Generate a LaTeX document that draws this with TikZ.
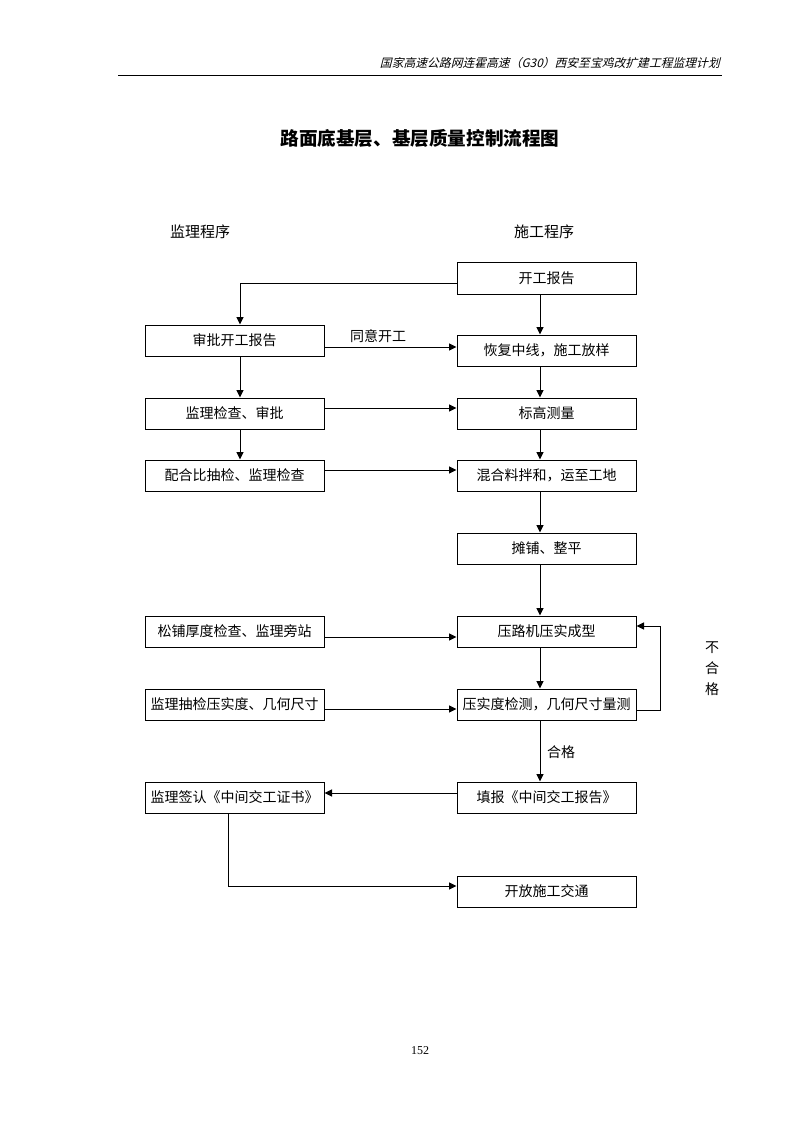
\documentclass[tikz,border=0pt]{standalone}
\usepackage{fontspec}
\setmainfont{Noto Sans CJK SC}
\newfontfamily\cjk{Noto Sans CJK SC}
\newfontfamily\hdrfont[FakeSlant=0.25]{Noto Sans CJK SC}
\newfontfamily\numfont{Liberation Serif}
\usetikzlibrary{arrows.meta}
\begin{document}
\begin{tikzpicture}[x=1pt,y=-1pt,
  box/.style={draw, line width=1pt, minimum width=179pt, minimum height=31pt, inner sep=0pt, font=\cjk\fontsize{14}{16}\selectfont},
  arr/.style={line width=1pt, -{Triangle[length=7.5pt,width=7pt]}},
  ln/.style={line width=1pt},
  lbl/.style={inner sep=0pt, font=\cjk\fontsize{14}{16}\selectfont}]
\useasboundingbox (0,0) rectangle (794,1123);
\fill[white] (0,0) rectangle (794,1123);

% header
\node[inner sep=0pt, anchor=east, font=\hdrfont\fontsize{11.8}{13}\selectfont] (hdr) at (720,63) {国家高速公路网连霍高速（G30）西安至宝鸡改扩建工程监理计划};
\draw[line width=1pt] (118,76) -- (722,76);

% title
\node[inner sep=0pt, font=\cjk\bfseries\fontsize{18.6}{20}\selectfont] (title) at (420,138) {路面底基层、基层质量控制流程图};

% column labels
\node[inner sep=0pt, font=\cjk\fontsize{15}{17}\selectfont] (lhead) at (200,232) {监理程序};
\node[inner sep=0pt, font=\cjk\fontsize{15}{17}\selectfont] (rhead) at (544,232) {施工程序};

% right column
\node[box, minimum height=32pt] (r1) at (546.5,278) {开工报告};
\node[box] (r2) at (546.5,350.5) {恢复中线，施工放样};
\node[box] (r3) at (546.5,413.5) {标高测量};
\node[box] (r4) at (546.5,475.5) {混合料拌和，运至工地};
\node[box] (r5) at (546.5,548.5) {摊铺、整平};
\node[box] (r6) at (546.5,631.5) {压路机压实成型};
\node[box] (r7) at (546.5,704.5) {压实度检测，几何尺寸量测};
\node[box] (r8) at (546.5,797.5) {填报《中间交工报告》};
\node[box] (r9) at (546.5,891.5) {开放施工交通};

% left column
\node[box] (l1) at (234.5,340.5) {审批开工报告};
\node[box] (l2) at (234.5,413.5) {监理检查、审批};
\node[box] (l3) at (234.5,475.5) {配合比抽检、监理检查};
\node[box] (l4) at (234.5,631.5) {松铺厚度检查、监理旁站};
\node[box] (l5) at (234.5,704.5) {监理抽检压实度、几何尺寸};
\node[box] (l6) at (234.5,797.5) {监理签认《中间交工证书》};

\coordinate (rx) at (540,0);
\coordinate (lx) at (240,0);
\coordinate (lx2) at (228,0);

% vertical arrows right
\draw[arr] (r1.south -| rx) -- (r2.north -| rx);
\draw[arr] (r2.south -| rx) -- (r3.north -| rx);
\draw[arr] (r3.south -| rx) -- (r4.north -| rx);
\draw[arr] (r4.south -| rx) -- (r5.north -| rx);
\draw[arr] (r5.south -| rx) -- (r6.north -| rx);
\draw[arr] (r6.south -| rx) -- (r7.north -| rx);
\draw[arr] (r7.south -| rx) -- (r8.north -| rx);
\node[lbl] (pass) at (561,752) {合格};

% vertical arrows left
\draw[arr] (r1.west |- 0,283) -| (l1.north -| lx);
\draw[arr] (l1.south -| lx) -- (l2.north -| lx);
\draw[arr] (l2.south -| lx) -- (l3.north -| lx);

% horizontal arrows
\draw[arr] (l1.east |- 0,347) -- (r2.west |- 0,347);
\node[lbl] (agree) at (378,336) {同意开工};
\draw[arr] (l2.east |- 0,408) -- (r3.west |- 0,408);
\draw[arr] (l3.east |- 0,470) -- (r4.west |- 0,470);
\draw[arr] (l4.east |- 0,637) -- (r6.west |- 0,637);
\draw[arr] (l5.east |- 0,709) -- (r7.west |- 0,709);
\draw[arr] (r8.west |- 0,793) -- (l6.east |- 0,793);

% loop back
\coordinate (lpa) at (660,710);
\coordinate (lpb) at (660,626);
\draw[arr] (r7.east |- lpa) -- (lpa) -- (lpb) -- (r6.east |- lpb);
\node[lbl, align=center, font=\cjk\fontsize{14}{21}\selectfont] (fail) at (712,669) {不\\合\\格};

% final
\coordinate (fc) at (228,886);
\draw[arr] (l6.south -| lx2) -- (fc) -- (r9.west |- fc);

% page number
\node[inner sep=0pt, font=\numfont\fontsize{12}{14}\selectfont] (pg) at (420,1051) {152};
\end{tikzpicture}
\end{document}
